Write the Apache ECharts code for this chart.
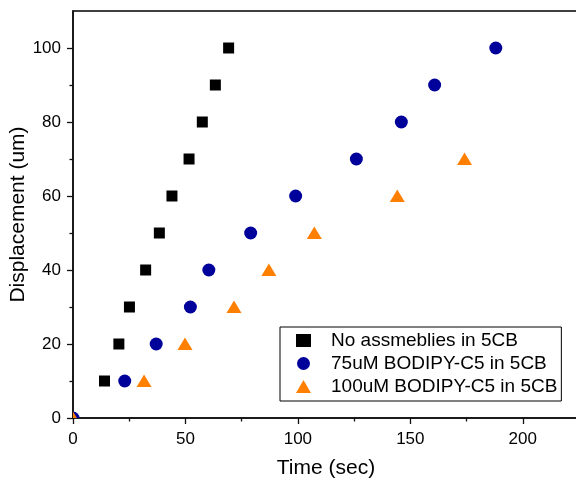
<!DOCTYPE html>
<html><head><meta charset="utf-8">
<script src="https://cdn.jsdelivr.net/npm/echarts@6/dist/echarts.min.js"></script>
<style>html,body{margin:0;padding:0;background:#fff}#c{width:576px;height:478px}</style>
</head><body><div id="c"></div>
<script>
const seriesNames = ['No assmeblies in 5CB', '75uM BODIPY-C5 in 5CB', '100uM BODIPY-C5 in 5CB'];
const noAssemblyTime = [14, 20.4, 25.1, 32.3, 38.4, 44.0, 51.6, 57.5, 63.3, 69.2];
const noAssemblyDisp = [10, 20, 30, 40, 50, 60, 70, 80, 90, 100];
const bodipy75Time = [0, 23.0, 37.0, 52.2, 60.4, 79.0, 99.0, 126.0, 146.0, 160.8, 188.0];
const bodipy75Disp = [0, 10, 20, 30, 40, 50, 60, 70, 80, 90, 100];
const bodipy100Time = [0, 31.6, 49.8, 71.6, 87.1, 107.3, 144.2, 174.1];
const bodipy100Disp = [0, 10, 20, 30, 40, 50, 60, 70];
const xMajorTicks = [0, 50, 100, 150, 200];
const xMinorTicks = [25, 75, 125, 175];
const yMajorTicks = [0, 20, 40, 60, 80, 100];
const yMinorTicks = [10, 30, 50, 70, 90];

const colors = ['#000000', '#00009a', '#ff7f00'];
const shapes = ['rect', 'circle', 'triangle'];
const FONT = "'Liberation Sans', Arial, sans-serif";

function zip(xs, ys) { return xs.map((x, i) => [x, ys[i]]); }
const dataSets = [zip(noAssemblyTime, noAssemblyDisp), zip(bodipy75Time, bodipy75Disp), zip(bodipy100Time, bodipy100Disp)];

function makeRender(shape, color) {
  return function (params, api) {
    const p = api.coord([api.value(0), api.value(1)]);
    if (shape === 'rect') {
      return { type: 'rect', shape: { x: p[0] - 5.5, y: p[1] - 5.5, width: 11, height: 11 }, style: { fill: color } };
    }
    if (shape === 'circle') {
      return { type: 'circle', shape: { cx: p[0], cy: p[1], r: 6.5 }, style: { fill: color } };
    }
    return { type: 'polygon', shape: { points: [[p[0], p[1] - 6.5], [p[0] + 7.5, p[1] + 6], [p[0] - 7.5, p[1] + 6]] }, style: { fill: color } };
  };
}

const chart = echarts.init(document.getElementById('c'), null, { renderer: 'canvas' });
const gridRect = { left: 73, top: 11, width: 506, height: 407, outerBoundsMode: 'none', containLabel: false };
chart.setOption({
  animation: false,
  backgroundColor: '#fff',
  textStyle: { fontFamily: FONT },
  grid: [
    Object.assign({ show: true, borderColor: '#000', borderWidth: 1.5, backgroundColor: 'transparent' }, gridRect),
    Object.assign({ show: false }, gridRect)
  ],
  legend: {
    orient: 'vertical', left: 280, top: 327,
    padding: [4, 4, 5, 16], itemGap: 4, itemWidth: 15, itemHeight: 13,
    symbolKeepAspect: true,
    borderColor: '#000', borderWidth: 1, backgroundColor: '#fff',
    selectedMode: false,
    textStyle: { fontFamily: FONT, fontSize: 19, color: '#000', lineHeight: 19, padding: [0, 0, 0, 15] },
    data: seriesNames.map((n, i) => ({ name: n, icon: shapes[i], itemStyle: { color: colors[i] } }))
  },
  xAxis: [
    {
      gridIndex: 0, type: 'value', min: 0, max: 225, interval: 50, position: 'bottom',
      name: 'Time (sec)', nameLocation: 'middle', nameGap: 40, nameMoveOverlap: false,
      nameTextStyle: { fontFamily: FONT, fontSize: 21, color: '#000' },
      axisLine: { show: true, onZero: false, lineStyle: { color: '#111', width: 1.5 } },
      axisTick: { show: true, inside: false, length: 6, customValues: xMajorTicks, lineStyle: { color: '#111', width: 1.3 } },
      axisLabel: { show: true, customValues: xMajorTicks, margin: 13, fontFamily: FONT, fontSize: 17, color: '#000' },
      splitLine: { show: false }
    },
    {
      gridIndex: 1, type: 'value', min: 0, max: 225, interval: 25, position: 'bottom',
      axisLine: { show: false, onZero: false },
      axisTick: { show: true, inside: false, length: 3.5, customValues: xMinorTicks, lineStyle: { color: '#111', width: 1.3 } },
      axisLabel: { show: false },
      splitLine: { show: false }
    }
  ],
  yAxis: [
    {
      gridIndex: 0, type: 'value', min: 0, max: 110, interval: 20, position: 'left',
      name: 'Displacement (um)', nameLocation: 'middle', nameGap: 44, nameMoveOverlap: false,
      nameTextStyle: { fontFamily: FONT, fontSize: 21, color: '#000' },
      axisLine: { show: true, onZero: false, lineStyle: { color: '#111', width: 1.5 } },
      axisTick: { show: true, inside: false, length: 6, customValues: yMajorTicks, lineStyle: { color: '#111', width: 1.3 } },
      axisLabel: { show: true, customValues: yMajorTicks, margin: 12, fontFamily: FONT, fontSize: 17, color: '#000' },
      splitLine: { show: false }
    },
    {
      gridIndex: 1, type: 'value', min: 0, max: 110, interval: 10, position: 'left',
      axisLine: { show: false, onZero: false },
      axisTick: { show: true, inside: false, length: 3.5, customValues: yMinorTicks, lineStyle: { color: '#111', width: 1.3 } },
      axisLabel: { show: false },
      splitLine: { show: false }
    }
  ],
  series: seriesNames.map((n, i) => ({
    name: n, type: 'custom', xAxisIndex: 0, yAxisIndex: 0, clip: true,
    itemStyle: { color: colors[i] },
    encode: { x: 0, y: 1 },
    renderItem: makeRender(shapes[i], colors[i]),
    data: dataSets[i]
  }))
});
</script>
</body></html>
